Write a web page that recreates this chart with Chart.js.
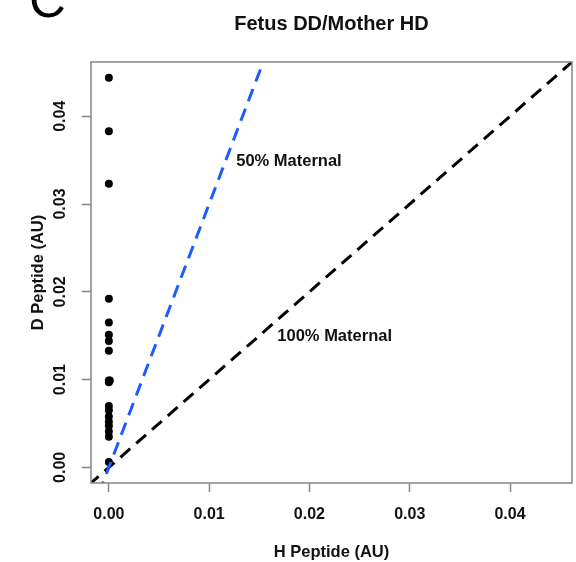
<!DOCTYPE html>
<html>
<head>
<meta charset="utf-8">
<script src="https://cdn.jsdelivr.net/npm/chart.js@4.4.1/dist/chart.umd.min.js"></script>
<style>
    html, body { margin: 0; padding: 0; background: #ffffff; }
    #wrap { width: 576px; height: 562px; }
</style>
</head>
<body>
<div id="wrap"><canvas id="fetus_chart" width="576" height="562"></canvas></div>
<script>
// measured peptide signal, one point per sample
const h_peptide = [0, 0, 0, 0, 0, 0, 0, 0, 0, 0, 0.0001, 0, 0, 0, 0, 0, 0, 0, 0];
const d_peptide = [0.0444, 0.0383, 0.0323, 0.0192, 0.0165, 0.0151, 0.0144, 0.0133, 0.0097, 0.0099,
                   0.0099, 0.0070, 0.0065, 0.0058, 0.0052, 0.0047, 0.0041, 0.0035, 0.0006];

// reference lines: 100% maternal (y = x) and 50% maternal (y = 3x)
const line_100_x = [-0.002, 0.05];
const line_100_y = [-0.002, 0.05];
const line_50_x = [-0.001, 0.02];
const line_50_y = [-0.003, 0.06];

const tick_values = [0, 0.01, 0.02, 0.03, 0.04];
const axis_range = [-0.00178, 0.04618];

const chart_title = 'Fetus DD/Mother HD';
const panel_letter = 'C';
const x_title = 'H Peptide (AU)';
const y_title = 'D Peptide (AU)';
const line_labels = ['50% Maternal', '100% Maternal'];

const fetus_palette = {
    ink: '#000000',
    text: '#111111',
    frame: '#858585',
    blue: '#1a5cff',
};
const font_family = '"Liberation Sans", Arial, sans-serif';

// where the line labels sit, in data units
const label_spots = [
    { x: 0.0127, y: 0.0349 },
    { x: 0.0168, y: 0.0149 },
];

function to_points(xs, ys) {
    return xs.map(function (x, idx) {
        return { x: x, y: ys[idx] };
    });
}

const fetus_extras = {
    id: 'fetus_extras',
    beforeDraw(chart) {
        const ctx = chart.ctx;
        ctx.save();
        ctx.fillStyle = '#ffffff';
        ctx.fillRect(0, 0, chart.width, chart.height);
        ctx.restore();
    },
    afterDraw(chart) {
        const ctx = chart.ctx;
        const area = chart.chartArea;
        const x_scale = chart.scales.x;
        const y_scale = chart.scales.y;

        ctx.save();
        ctx.strokeStyle = fetus_palette.frame;
        ctx.lineWidth = 1.5;
        ctx.strokeRect(area.left, area.top, area.right - area.left, area.bottom - area.top);

        // y tick labels read upwards, as in base R
        ctx.fillStyle = fetus_palette.text;
        ctx.font = 'bold 16px ' + font_family;
        ctx.textAlign = 'center';
        ctx.textBaseline = 'middle';
        tick_values.forEach(function (v) {
            ctx.save();
            ctx.translate(61, y_scale.getPixelForValue(v));
            ctx.rotate(-Math.PI / 2);
            ctx.fillText(v.toFixed(2), 0, 0);
            ctx.restore();
        });

        ctx.font = 'bold 16.5px ' + font_family;
        ctx.textAlign = 'left';
        line_labels.forEach(function (txt, idx) {
            ctx.fillText(txt, x_scale.getPixelForValue(label_spots[idx].x), y_scale.getPixelForValue(label_spots[idx].y));
        });

        ctx.font = 'bold 20px ' + font_family;
        ctx.textAlign = 'center';
        ctx.textBaseline = 'alphabetic';
        ctx.fillText(chart_title, (area.left + area.right) / 2, 30);

        ctx.font = '51px ' + font_family;
        ctx.textAlign = 'left';
        ctx.fillStyle = fetus_palette.ink;
        ctx.fillText(panel_letter, 29, 17);
        ctx.restore();
    },
};

function axis_options(is_x) {
    return {
        type: 'linear',
        position: is_x ? 'bottom' : 'left',
        min: axis_range[0],
        max: axis_range[1],
        afterFit: function (scale) {
            if (is_x) {
                scale.height = 79;
                scale.paddingLeft = 0;
                scale.paddingRight = 0;
            } else {
                scale.width = 91;
            }
        },
        border: { display: false },
        grid: {
            display: true,
            drawOnChartArea: false,
            drawTicks: true,
            tickLength: 9,
            tickColor: fetus_palette.frame,
            tickWidth: 1.5,
        },
        ticks: {
            display: is_x,
            stepSize: 0.01,
            includeBounds: false,
            autoSkip: false,
            maxRotation: 0,
            padding: 13,
            color: fetus_palette.text,
            font: { family: font_family, size: 16, weight: 'bold' },
            callback: function (v) {
                return Number(v).toFixed(2);
            },
        },
        title: {
            display: true,
            text: is_x ? x_title : y_title,
            color: fetus_palette.text,
            font: { family: font_family, size: 16.5, weight: 'bold' },
            padding: is_x ? { top: 0, bottom: 0 } : { top: 29, bottom: 0 },
        },
    };
}

new Chart(document.getElementById('fetus_chart').getContext('2d'), {
    type: 'scatter',
    data: {
        datasets: [
            {
                label: '50% Maternal',
                data: to_points(line_50_x, line_50_y),
                showLine: true,
                borderColor: fetus_palette.blue,
                borderWidth: 3,
                borderDash: [13, 8],
                pointRadius: 0,
                order: 1,
            },
            {
                label: '100% Maternal',
                data: to_points(line_100_x, line_100_y),
                showLine: true,
                borderColor: fetus_palette.ink,
                borderWidth: 3,
                borderDash: [13, 8],
                pointRadius: 0,
                order: 2,
            },
            {
                label: 'Samples',
                data: to_points(h_peptide, d_peptide),
                pointRadius: 4,
                pointBackgroundColor: fetus_palette.ink,
                pointBorderWidth: 0,
                order: 3,
            },
        ],
    },
    options: {
        responsive: false,
        animation: false,
        layout: { padding: { left: 0, top: 62, right: 2, bottom: 0 } },
        plugins: {
            legend: { display: false },
            tooltip: { enabled: false },
        },
        scales: {
            x: axis_options(true),
            y: axis_options(false),
        },
    },
    plugins: [fetus_extras],
});
</script>
</body>
</html>
